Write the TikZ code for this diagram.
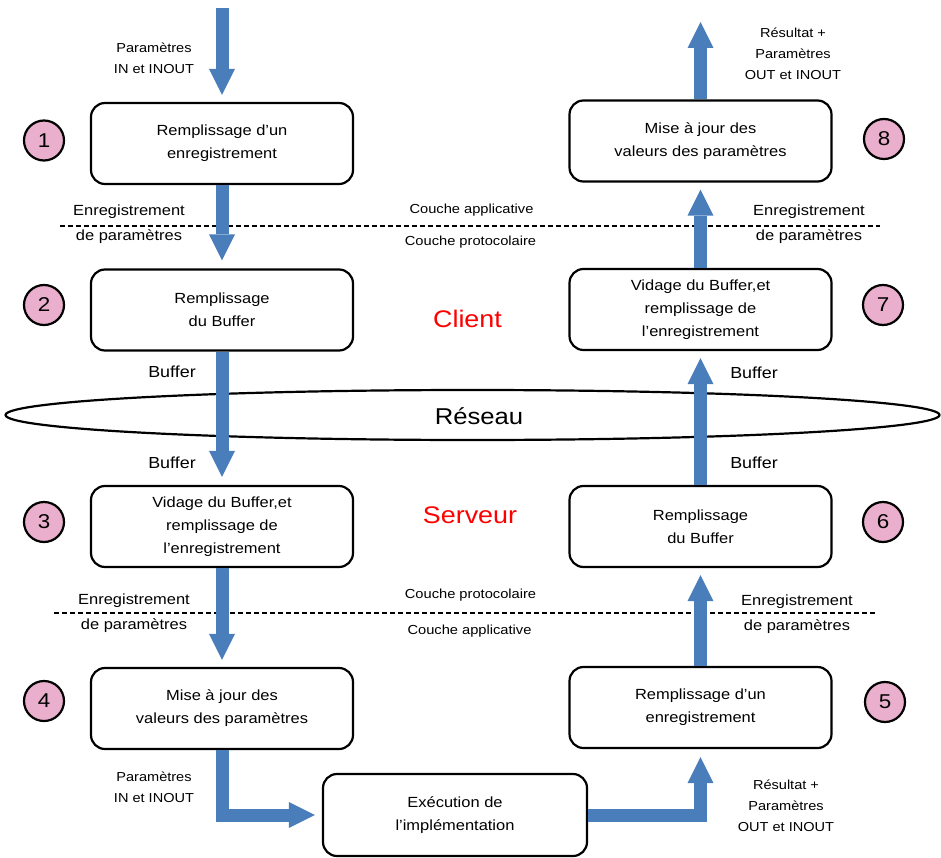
\documentclass[tikz,border=0pt]{standalone}
\usepackage{fontspec}
\setmainfont{Liberation Sans}[FakeStretch=1.12]
\usetikzlibrary{arrows.meta,shapes.geometric}
\definecolor{fblue}{RGB}{74,126,187}
\definecolor{numpink}{RGB}{234,175,204}
\definecolor{redtxt}{RGB}{255,0,0}
\begin{document}
\begin{tikzpicture}[x=1pt,y=-1pt,
  box/.style={draw=black, line width=2.2pt, rounded corners=14pt, fill=white,
    minimum width=262pt, minimum height=81pt, inner sep=0pt, align=center,
    font=\fontsize{14.7}{23}\selectfont},
  num/.style={circle, draw=black, line width=2.2pt, fill=numpink,
    minimum size=40pt, inner sep=0pt, font=\fontsize{20}{24}\selectfont},
  flow/.style={draw=fblue, line width=13pt, line join=miter,
    -{Triangle[width=26pt,length=26pt,line width=0pt]}},
  enr/.style={align=center, inner sep=0pt, font=\fontsize{14.7}{25}\selectfont},
  par/.style={align=center, inner sep=0pt, font=\fontsize{13}{21}\selectfont},
  couche/.style={inner sep=0pt, font=\fontsize{13.1}{16}\selectfont},
  buf/.style={inner sep=0pt, font=\fontsize{16}{19}\selectfont},
  side/.style={inner sep=0pt, text=redtxt, font=\fontsize{24}{28}\selectfont},
  sep/.style={line width=2.2pt, dash pattern=on 4.5pt off 3.5pt}]
\useasboundingbox (0,0) rectangle (941,858);

% network ellipse
\node[draw=black, line width=2.2pt, ellipse, minimum width=934pt, minimum height=50pt, inner sep=0pt] (net) at (472.5,415) {};
\node[inner sep=0pt, font=\fontsize{22.9}{26}\selectfont] (reseau) at (479,416) {Réseau};

% layer separators
\coordinate (s1a) at (60,226);
\coordinate (s1b) at (880,226);
\coordinate (s2a) at (54,613);
\coordinate (s2b) at (875,613);
\draw[sep] (s1a) -- (s1b);
\draw[sep] (s2a) -- (s2b);

% boxes
\node[box] (b1) at (222,143.5) {Remplissage d’un\\enregistrement};
\node[box] (b2) at (222,310) {Remplissage\\du Buffer};
\node[box] (b3) at (222,526.5) {Vidage du Buffer,et\\remplissage de\\l’enregistrement};
\node[box] (b4) at (222,708.5) {Mise à jour des\\valeurs des paramètres};
\node[box, minimum width=264pt, minimum height=82pt] (ex) at (455,815) {Exécution de\\l’implémentation};
\node[box] (b5) at (700.5,707.5) {Remplissage d’un\\enregistrement};
\node[box] (b6) at (700.5,526.5) {Remplissage\\du Buffer};
\node[box] (b7) at (700.5,309.5) {Vidage du Buffer,et\\remplissage de\\l’enregistrement};
\node[box] (b8) at (700.5,141) {Mise à jour des\\valeurs des paramètres};

% step numbers
\node[num] (n1) at (44,140.5) {1};
\node[num] (n2) at (44,305) {2};
\node[num] (n3) at (44,522) {3};
\node[num] (n4) at (44,701) {4};
\node[num] (n5) at (885,702) {5};
\node[num] (n6) at (883,522) {6};
\node[num] (n7) at (883,305) {7};
\node[num] (n8) at (884,139) {8};

% flow arrows
\coordinate (in0) at (222,8);
\coordinate (out0) at (700.5,22);
\draw[flow, shorten >=7pt] (in0) -- (b1.north);
\draw[flow, shorten >=8pt] (b1.south) -- (b2.north);
\draw[flow, shorten >=8pt] (b2.south) -- (b3.north);
\draw[flow, shorten >=7pt] (b3.south) -- (b4.north);
\draw[flow, shorten >=7pt] (b4.south) |- (ex.west);
\draw[flow, shorten >=8pt] (ex.east) -| (b5.south);
\draw[flow, shorten >=7pt] (b5.north) -- (b6.south);
\draw[flow, shorten >=7pt] (b6.north) -- (b7.south);
\draw[flow, shorten >=7pt] (b7.north) -- (b8.south);
\draw[flow] (b8.north) -- (out0);

% labels
\node[par] (l1) at (154,58.5) {Paramètres\\IN et INOUT};
\node[par] (l8) at (793,53.5) {Résultat +\\Paramètres\\OUT et INOUT};
\node[enr] (e1) at (129,224.5) {Enregistrement\\de paramètres};
\node[enr] (e8) at (809,224.5) {Enregistrement\\de paramètres};
\node[couche] (c1) at (471.5,210) {Couche applicative};
\node[couche] (c2) at (470.5,242) {Couche protocolaire};
\node[side] (client) at (467.5,319) {Client};
\node[buf] (bf1) at (172,372) {Buffer};
\node[buf] (bf2) at (754,373) {Buffer};
\node[buf] (bf3) at (172,463) {Buffer};
\node[buf] (bf4) at (754,463) {Buffer};
\node[side] (serveur) at (470,515) {Serveur};
\node[couche] (c3) at (470.5,595) {Couche protocolaire};
\node[couche] (c4) at (469.5,631) {Couche applicative};
\node[enr] (e3) at (134,613.5) {Enregistrement\\de paramètres};
\node[enr] (e6) at (797,614.5) {Enregistrement\\de paramètres};
\node[par] (l4) at (154,787.5) {Paramètres\\IN et INOUT};
\node[par] (l5) at (786,805.5) {Résultat +\\Paramètres\\OUT et INOUT};
\end{tikzpicture}
\end{document}
